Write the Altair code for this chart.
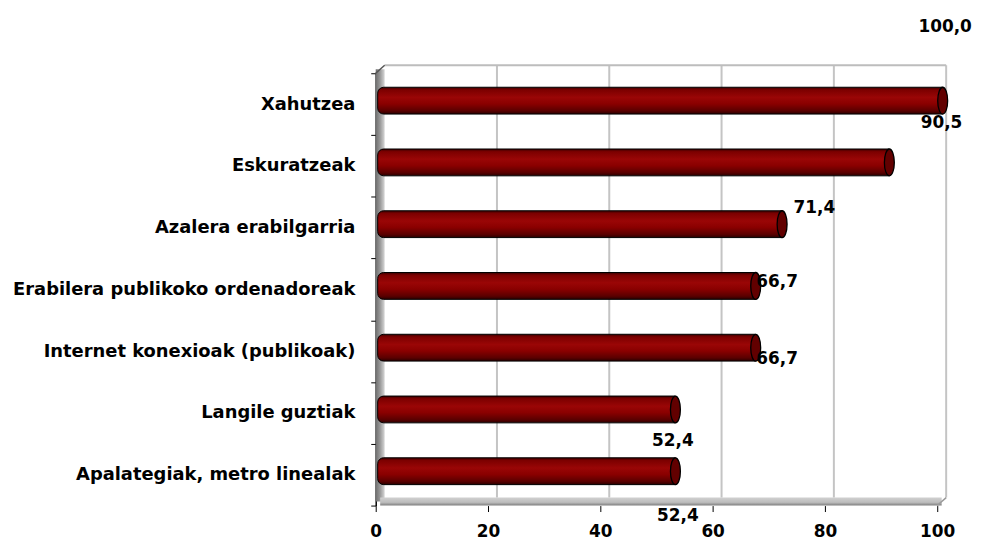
import altair as alt
import pandas as pd

# ---- data ----
categories = [
    "Xahutzea",
    "Eskuratzeak",
    "Azalera erabilgarria",
    "Erabilera publikoko ordenadoreak",
    "Internet konexioak (publikoak)",
    "Langile guztiak",
    "Apalategiak, metro linealak",
]
values = [100.0, 90.5, 71.4, 66.7, 66.7, 52.4, 52.4]
x_ticks = [0, 20, 40, 60, 80, 100]
grid_vals = [20, 40, 60, 80, 100]

# label placement offsets (pixels) mimicking the original 3-D label layout
label_dx = [8, 58, 38, 27, 27, 3, 8]
label_dy = [-78, -43, -20, -7, 8, 28, 42]

FONT = "DejaVu Sans"
FS = 17
W, H = 565, 435
DX, DY = 9, 8

df = pd.DataFrame({"cat": categories, "val": values})
df["lab"] = [f"{v:.1f}".replace(".", ",") for v in values]
df["zero"] = 0.0

deco = pd.DataFrame({"lo": [0.0], "hi": [100.0]})
grid_df = pd.DataFrame({"g": grid_vals})

xscale = alt.Scale(domain=[0, 100], nice=False, zero=True)
xaxis = alt.Axis(title=None, values=x_ticks, grid=False, domain=False,
                 tickColor="black", tickSize=6, labelFont=FONT,
                 labelFontWeight="bold", labelFontSize=FS,
                 labelColor="black", labelPadding=12, labelFlush=False)


def X(field):
    return alt.X(field, type="quantitative", scale=xscale, axis=xaxis)


yaxis = alt.Axis(title=None, labelFont=FONT, labelFontWeight="bold",
                 labelFontSize=18, labelColor="black", labelLimit=500,
                 tickBand="extent", tickSize=5, tickColor="black",
                 domainColor="black", domainWidth=1.5, labelPadding=16)
yscale = alt.Scale(paddingInner=0, paddingOuter=0)


def Y():
    return alt.Y("cat:N", sort=categories, scale=yscale, axis=yaxis)


# ---- 3-D box decoration ----
left_wall = alt.Chart(deco).mark_rect(
    x2Offset=DX,
    fill=alt.Gradient(gradient="linear", x1=0, x2=1, y1=0, y2=0,
                      stops=[alt.GradientStop(color="#6e6e6e", offset=0),
                             alt.GradientStop(color="#9a9a9a", offset=0.5),
                             alt.GradientStop(color="#d6d6d6", offset=1)])).encode(
    x=X("lo"), x2="lo:Q", y=alt.value(-DY / 2), y2=alt.value(H - DY / 2))

floor = alt.Chart(deco).mark_rect(
    xOffset=DX / 2, x2Offset=DX / 2,
    fill=alt.Gradient(gradient="linear", x1=0, x2=0, y1=0, y2=1,
                      stops=[alt.GradientStop(color="#d0d0d0", offset=0),
                             alt.GradientStop(color="#bcbcbc", offset=0.6),
                             alt.GradientStop(color="#7c7c7c", offset=1)])).encode(
    x=X("lo"), x2="hi:Q", y=alt.value(H - DY), y2=alt.value(H))

gridlines = alt.Chart(grid_df).mark_rule(xOffset=DX, color="#c4c4c4", strokeWidth=2).encode(
    x=X("g"), y=alt.value(-DY), y2=alt.value(H - DY))

top_edge = alt.Chart(deco).mark_rule(xOffset=DX, x2Offset=DX, color="#bdbdbd", strokeWidth=2).encode(
    x=X("lo"), x2="hi:Q", y=alt.value(-DY))

corner_tl = alt.Chart(deco).mark_rule(x2Offset=DX, color="#555555", strokeWidth=1.5).encode(
    x=X("lo"), x2="lo:Q", y=alt.value(0), y2=alt.value(-DY))

corner_br = alt.Chart(deco).mark_rule(x2Offset=DX, color="#9a9a9a", strokeWidth=1.5).encode(
    x=X("hi"), x2="hi:Q", y=alt.value(H), y2=alt.value(H - DY))

# ---- cylinders ----
bar_fill = alt.Gradient(
    gradient="linear", x1=0, x2=0, y1=0, y2=1,
    stops=[alt.GradientStop(color="#3a0000", offset=0),
           alt.GradientStop(color="#7c0000", offset=0.1),
           alt.GradientStop(color="#9a0606", offset=0.38),
           alt.GradientStop(color="#8a0000", offset=0.62),
           alt.GradientStop(color="#5a0000", offset=0.88),
           alt.GradientStop(color="#2a0000", offset=1)])

bars = alt.Chart(df).mark_bar(
    size=27, fill=bar_fill, stroke="black", strokeWidth=1,
    xOffset=2, x2Offset=DX / 2 + 1, yOffset=-DY / 2 + 0.5,
    cornerRadiusTopLeft=6, cornerRadiusBottomLeft=6).encode(
    x=X("zero"), x2="val:Q", y=Y())

a, k = 0.37, 0.552
ellipse = (f"M0,-1 C{a*k:.3f},-1 {a},{-k} {a},0 C{a},{k} {a*k:.3f},1 0,1 "
           f"C{-a*k:.3f},1 {-a},{k} {-a},0 C{-a},{-k} {-a*k:.3f},-1 0,-1 Z")
caps = alt.Chart(df).mark_point(
    shape=ellipse, size=729, filled=True, fill="#620000", stroke="black",
    strokeWidth=1.3, opacity=1, xOffset=DX / 2 + 1, yOffset=-DY / 2 + 0.5).encode(
    x=X("val"), y=Y())

# ---- value labels ----
label_layers = []
for i in range(len(categories)):
    sub = df.iloc[[i]]
    label_layers.append(
        alt.Chart(sub).mark_text(font=FONT, fontWeight="bold", fontSize=FS, color="black",
                                 align="center", baseline="middle",
                                 dx=label_dx[i], dy=label_dy[i]).encode(
            x=X("val"), y=Y(), text="lab:N"))

chart = alt.layer(left_wall, floor, gridlines, top_edge, corner_tl, corner_br,
                  bars, caps, *label_layers).properties(
    width=W, height=H,
    padding={"left": 370, "top": 64, "right": 36, "bottom": 35},
    autosize=alt.AutoSizeParams(type="none"),
).configure_view(stroke=None)

chart.save("out.html", embed_options={"renderer": "svg", "actions": False})
